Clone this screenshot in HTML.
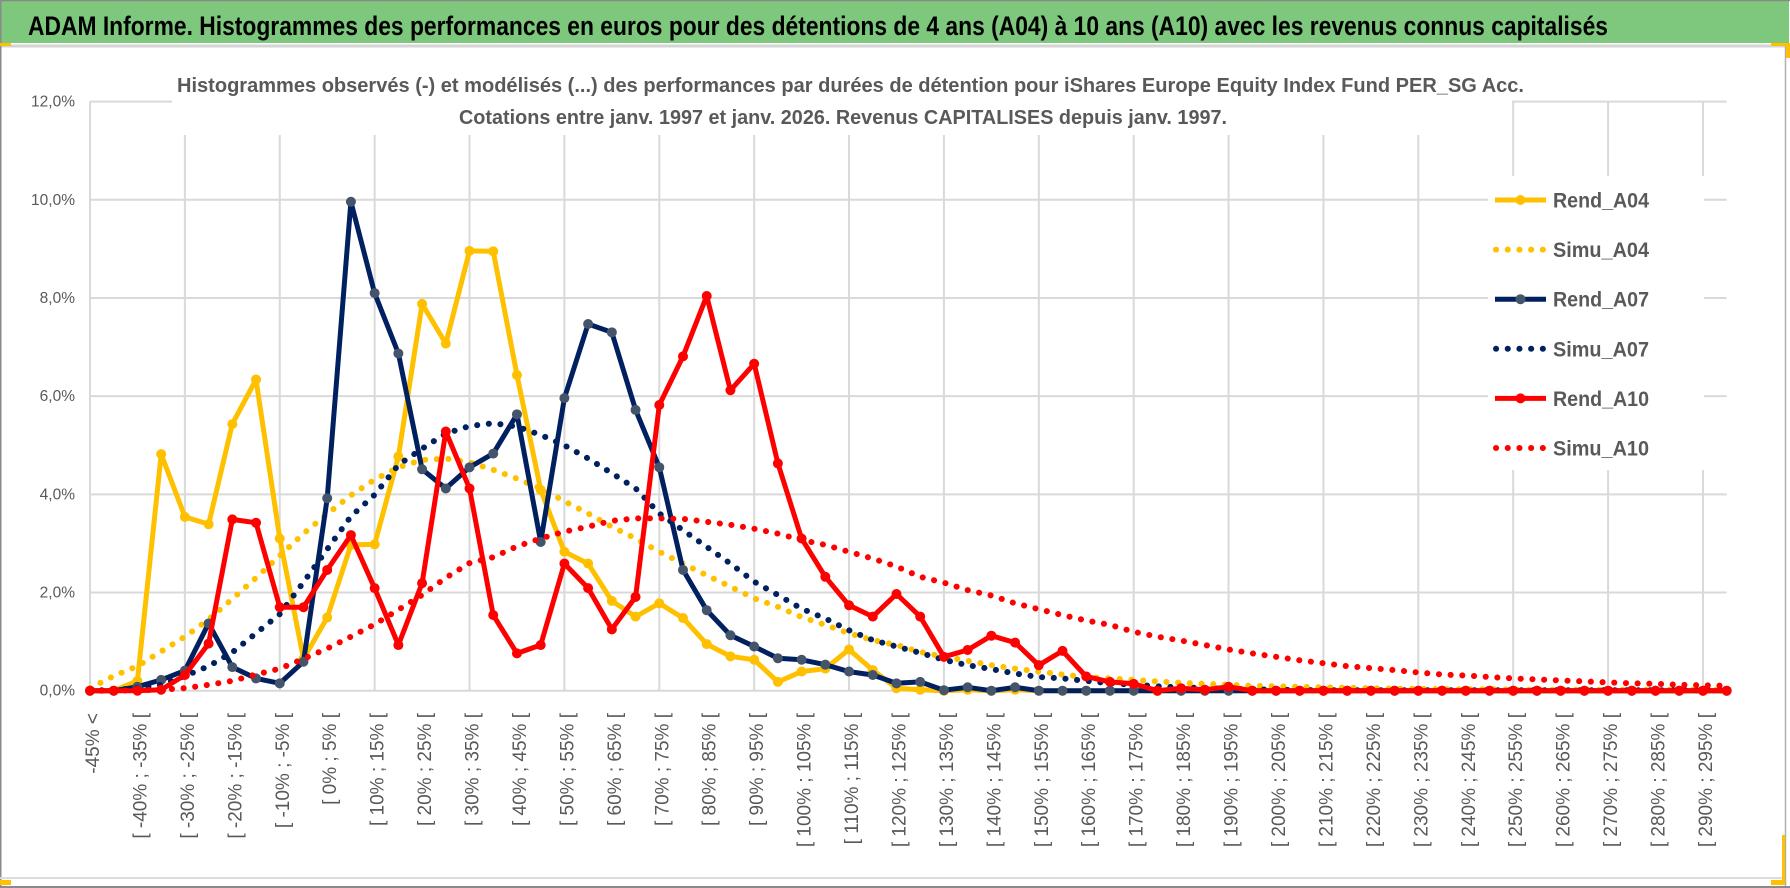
<!DOCTYPE html>
<html><head><meta charset="utf-8"><style>
html,body{margin:0;padding:0;background:#fff;width:1790px;height:888px;overflow:hidden}
svg{display:block;font-family:"Liberation Sans",sans-serif}
</style></head><body>
<svg id="chart" width="1790" height="888" viewBox="0 0 1790 888">
<rect x="0" y="0" width="1790" height="888" fill="#fff"/>
<rect x="0" y="0" width="1789" height="43" fill="#7DC87D"/>
<line x1="0" y1="0.5" x2="1790" y2="0.5" stroke="#888" stroke-width="1.5"/>
<line x1="0" y1="46" x2="1785" y2="46" stroke="#d4d4d4" stroke-width="3"/>
<line x1="0.75" y1="0" x2="0.75" y2="888" stroke="#8a8a8a" stroke-width="1.5"/>
<line x1="1785.5" y1="46" x2="1785.5" y2="888" stroke="#b0b0b0" stroke-width="1.5"/>
<line x1="0" y1="878" x2="1785" y2="878" stroke="#dcdcdc" stroke-width="2"/>
<line x1="0" y1="887" x2="1790" y2="887" stroke="#8a8a8a" stroke-width="2"/>
<rect x="0" y="43" width="11" height="3" fill="#FFC000"/>
<rect x="1771" y="43" width="19" height="3" fill="#FFC000"/>
<rect x="1786" y="43" width="4" height="15" fill="#FFC000"/>
<rect x="0" y="880" width="11" height="5" fill="#FFC000"/>
<rect x="1771" y="880" width="14" height="5" fill="#FFC000"/>
<rect x="1782" y="835" width="3" height="48" fill="#FFC000"/>
<text x="28" y="35" font-size="27" font-weight="bold" fill="#000" textLength="1580" lengthAdjust="spacingAndGlyphs">ADAM Informe. Histogrammes des performances en euros pour des détentions de 4 ans (A04) à 10 ans (A10) avec les revenus connus capitalisés</text>
<g id="grid"></g>
<rect x="172" y="58" width="1340" height="77" fill="#fff"/>
<text x="177" y="92" font-size="20" font-weight="bold" fill="#595959" textLength="1347" lengthAdjust="spacingAndGlyphs">Histogrammes observés (-)  et modélisés (...)  des performances par durées de détention pour iShares Europe Equity Index Fund PER_SG Acc.</text>
<text x="459" y="124" font-size="20" font-weight="bold" fill="#595959" textLength="768" lengthAdjust="spacingAndGlyphs">Cotations entre janv. 1997 et janv. 2026. Revenus CAPITALISES depuis janv. 1997.</text>
<g id="ylabels"></g>
<g id="xlabels"></g>
<g id="series"></g>
<rect x="1488" y="176" width="216" height="294" fill="#fff"/>
<g id="legend"></g>
</svg>
<script>
const categories = (function(){const a=['-45% <','[ -45% ; -40% ['];for(let v=-40;v<=290;v+=5){a.push('[ '+v+'% ; '+(v+5)+'% [');}a.push('>= 295%');return a;})();
const yTicks = [0,2,4,6,8,10,12];
const yTickLabels = ['0,0%','2,0%','4,0%','6,0%','8,0%','10,0%','12,0%'];
const seriesNames = ['Rend_A04','Simu_A04','Rend_A07','Simu_A07','Rend_A10','Simu_A10'];
const rendA04 = [0,0,0.2,4.82,3.54,3.39,5.43,6.34,3.1,0.65,1.49,2.97,2.98,4.77,7.88,7.07,8.96,8.95,6.43,4.09,2.83,2.59,1.83,1.51,1.78,1.48,0.95,0.7,0.63,0.18,0.39,0.45,0.84,0.42,0.05,0.02,0,0.02,0,0.02,0,0,0,0,0,0,0,0,0,0,0,0,0,0,0,0,0,0,0,0,0,0,0,0,0,0,0,0,0,0];
const simuA04 = [0.05,0.3,0.5,0.8,1.1,1.45,1.87,2.3,2.75,3.2,3.6,3.98,4.3,4.55,4.7,4.73,4.65,4.5,4.32,4.12,3.86,3.61,3.34,3.1,2.83,2.59,2.35,2.12,1.88,1.71,1.5,1.34,1.17,1.03,0.93,0.79,0.69,0.61,0.52,0.45,0.39,0.33,0.28,0.25,0.22,0.19,0.16,0.14,0.12,0.1,0.09,0.08,0.07,0.06,0.05,0.04,0.04,0.03,0.03,0.03,0.02,0.02,0.02,0.02,0.02,0.02,0.02,0.02,0.02,0.02];
const rendA07 = [0,0,0.08,0.22,0.41,1.37,0.48,0.25,0.15,0.59,3.92,9.96,8.1,6.87,4.51,4.12,4.55,4.83,5.63,3.03,5.96,7.47,7.3,5.72,4.55,2.46,1.64,1.13,0.9,0.66,0.63,0.53,0.39,0.32,0.15,0.18,0.01,0.07,0,0.07,0,0,0,0,0,0,0,0,0,0,0,0,0,0,0,0,0,0,0,0,0,0,0,0,0,0,0,0,0,0];
const simuA07 = [0,0.02,0.05,0.12,0.3,0.5,0.78,1.17,1.56,2.21,2.88,3.55,3.99,4.6,4.93,5.24,5.39,5.45,5.38,5.21,5.0,4.73,4.43,4.12,3.61,3.27,2.93,2.59,2.22,1.95,1.67,1.47,1.23,1.03,0.9,0.77,0.63,0.52,0.44,0.35,0.28,0.25,0.2,0.15,0.12,0.09,0.07,0.05,0.04,0.03,0.02,0.015,0.01,0.01,0.01,0.01,0.01,0.01,0.01,0.01,0.01,0.01,0.01,0.01,0.01,0.01,0.01,0.01,0.01,0.01];
const rendA10 = [0,0,0,0.02,0.32,0.96,3.49,3.42,1.7,1.7,2.46,3.17,2.09,0.93,2.19,5.28,4.12,1.54,0.76,0.93,2.59,2.09,1.25,1.91,5.82,6.81,8.04,6.12,6.66,4.63,3.1,2.32,1.74,1.51,1.97,1.51,0.69,0.83,1.12,0.98,0.52,0.81,0.29,0.18,0.14,0,0.05,0.02,0.08,0,0,0,0,0,0,0,0,0,0,0,0,0,0,0,0,0,0,0,0,0];
const simuA10 = [0,0,0.01,0.02,0.05,0.12,0.2,0.33,0.45,0.65,0.86,1.1,1.35,1.65,1.95,2.3,2.6,2.72,2.94,3.1,3.24,3.34,3.46,3.51,3.51,3.5,3.44,3.38,3.3,3.2,3.07,2.97,2.83,2.69,2.53,2.32,2.2,2.05,1.94,1.78,1.66,1.54,1.43,1.34,1.2,1.1,1.02,0.93,0.84,0.76,0.69,0.62,0.56,0.5,0.46,0.42,0.37,0.33,0.31,0.28,0.25,0.23,0.21,0.19,0.17,0.15,0.14,0.12,0.11,0.1];

const NS='http://www.w3.org/2000/svg';
const X0=90, XSTEP=23.72, Y0=690.7, YPER=49.09;
function xPos(i){return X0+i*XSTEP;}
function yPos(v){return Y0-v*YPER;}
function mk(tag,attrs,parent){const e=document.createElementNS(NS,tag);for(const k in attrs)e.setAttribute(k,attrs[k]);parent.appendChild(e);return e;}

const grid=document.getElementById('grid');
yTicks.forEach(function(t){
  const l=mk('line',{x1:X0,x2:xPos(categories.length-1),y1:yPos(t),y2:yPos(t),stroke:'#d9d9d9','stroke-width':2},grid);
  
  
});
for(let i=0;i<categories.length;i+=4){
  const l=mk('line',{x1:xPos(i),x2:xPos(i),y1:yPos(12),y2:yPos(0),stroke:'#d9d9d9','stroke-width':2},grid);
  
  
}
const yl=document.getElementById('ylabels');
yTicks.forEach(function(t,k){
  const tx=mk('text',{x:75,y:yPos(t)+5,'text-anchor':'end','font-size':15.5,fill:'#595959'},yl);
  tx.textContent=yTickLabels[k];
  
  
});
const xl=document.getElementById('xlabels');
for(let i=0;i<categories.length;i+=2){
  const bx=xPos(i)+9, by=713;
  const tx=mk('text',{x:bx,y:by,'text-anchor':'end','font-size':19,fill:'#595959',transform:'rotate(-90 '+bx+' '+by+')'},xl);
  tx.textContent=categories[i];
  
  
}
const S=document.getElementById('series');
function pts(arr){return arr.map(function(v,i){return xPos(i).toFixed(1)+','+yPos(v).toFixed(1);}).join(' ');}
function solid(arr,color,mcolor,name){
  const g=mk('g',{},S);
  
  
  mk('polyline',{points:pts(arr),fill:'none',stroke:color,'stroke-width':5,'stroke-linejoin':'round'},g);
  arr.forEach(function(v,i){
    const c=mk('circle',{cx:xPos(i),cy:yPos(v),r:5,fill:mcolor},g);
    
    
  });
}
function dotted(arr,color,name){
  const p=mk('polyline',{points:pts(arr),fill:'none',stroke:color,'stroke-width':6,'stroke-linecap':'round','stroke-dasharray':'0.1 11.6'},S);
  
  
}
solid(rendA04,'#FFC000','#FFC000','rend-a04-line');
dotted(simuA04,'#FFC000','simu-a04-line');
solid(rendA07,'#002060','#44546A','rend-a07-line');
dotted(simuA07,'#002060','simu-a07-line');
solid(rendA10,'#FF0000','#FF0000','rend-a10-line');
dotted(simuA10,'#FF0000','simu-a10-line');

const L=document.getElementById('legend');
const legColors=['#FFC000','#FFC000','#002060','#002060','#FF0000','#FF0000'];
const legMarker=['#FFC000',null,'#44546A',null,'#FF0000',null];
seriesNames.forEach(function(n,k){
  const y=200+k*49.6;
  const g=mk('g',{},L);
  
  
  if(legMarker[k]){
    mk('line',{x1:1495,x2:1546,y1:y,y2:y,stroke:legColors[k],'stroke-width':5},g);
    mk('circle',{cx:1520.5,cy:y,r:5,fill:legMarker[k]},g);
  } else {
    mk('line',{x1:1496,x2:1546,y1:y,y2:y,stroke:legColors[k],'stroke-width':6,'stroke-linecap':'round','stroke-dasharray':'0.1 11.6'},g);
  }
  const t=mk('text',{x:1553,y:y+7.5,'font-size':21,'font-weight':'bold',fill:'#595959',textLength:96,lengthAdjust:'spacingAndGlyphs'},g);
  t.textContent=n;
});
</script>
</body></html>
